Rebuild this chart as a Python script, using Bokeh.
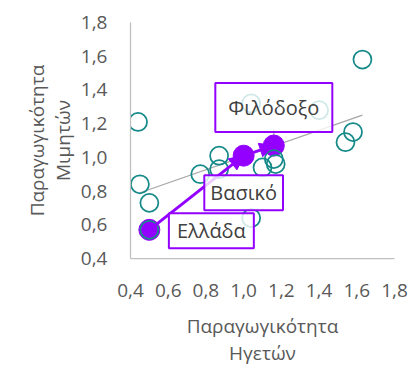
from bokeh.plotting import figure
from bokeh.models import (FixedTicker, CustomJSTickFormatter, Label, Arrow, NormalHead, Range1d,
                          LinearAxis)
from bokeh.embed import file_html
from bokeh.resources import INLINE

# ---- data ----
leaders_x = [1.63, 0.44, 1.04, 1.40, 1.58, 1.54, 0.87, 0.77, 0.87, 1.10, 1.16, 1.17, 0.45, 0.50, 1.04, 0.50]
mimics_y  = [1.58, 1.21, 1.32, 1.28, 1.15, 1.09, 1.01, 0.90, 0.93, 0.94, 0.99, 0.96, 0.84, 0.73, 0.64, 0.57]

greece_names = ["Ελλάδα", "Βασικό", "Φιλόδοξο"]
greece_x = [0.50, 1.00, 1.16]
greece_y = [0.57, 1.01, 1.07]

trend_x = [0.45, 1.63]
trend_y = [0.79, 1.25]

ticks = [0.4, 0.6, 0.8, 1.0, 1.2, 1.4, 1.6, 1.8]
x_title = ["Παραγωγικότητα", "Ηγετών"]
y_title = ["Παραγωγικότητα", "Μιμητών"]

# ---- style ----
TEAL = "#168a88"
PURPLE = "#9400ff"
FONT = "Open Sans"
TICK_COLOR = "#595959"
LABEL_COLOR = "#404040"

p = figure(width=411, height=368, output_backend="svg", toolbar_location=None,
           x_range=Range1d(ticks[0], ticks[-1]), y_range=Range1d(ticks[0], ticks[-1]),
           min_border_left=130, min_border_right=17, min_border_top=22, min_border_bottom=110)
p.outline_line_color = None
p.grid.visible = False
p.background_fill_color = "white"

fmt = CustomJSTickFormatter(code="return tick.toFixed(1).replace('.', ',');")


def style_axis(ax):
    ax.axis_label_text_font = FONT
    ax.axis_label_text_font_size = "19px"
    ax.axis_label_text_font_style = "normal"
    ax.axis_label_text_color = TICK_COLOR
    ax.major_tick_line_color = None
    ax.minor_tick_line_color = None
    ax.major_tick_out = 0
    ax.major_tick_in = 0
    ax.minor_tick_out = 0


for ax in (p.xaxis[0], p.yaxis[0]):
    style_axis(ax)
    ax.ticker = FixedTicker(ticks=ticks)
    ax.formatter = fmt
    ax.axis_line_color = "#bfbfbf"
    ax.axis_line_width = 1.25
    ax.major_label_text_font = FONT
    ax.major_label_text_font_size = "19px"
    ax.major_label_text_color = TICK_COLOR

p.xaxis[0].major_label_standoff = 25
p.yaxis[0].major_label_standoff = 23
p.xaxis[0].axis_label = x_title[0]
p.xaxis[0].axis_label_standoff = 13
p.yaxis[0].axis_label = y_title[1]
p.yaxis[0].axis_label_standoff = 2

# second title lines as extra, tick-less axes
x2 = LinearAxis(ticker=FixedTicker(ticks=[]), axis_label=x_title[1], axis_line_color=None,
                major_label_standoff=0, axis_label_standoff=-2)
style_axis(x2)
p.add_layout(x2, "below")
y2 = LinearAxis(ticker=FixedTicker(ticks=[]), axis_label=y_title[0], axis_line_color=None,
                major_label_standoff=0, axis_label_standoff=-3)
style_axis(y2)
p.add_layout(y2, "left")

# trend line
p.line(trend_x, trend_y, line_color="#a6a6a6", line_width=1.25)

# leader line for Φιλόδοξο label
p.segment(x0=[greece_x[2]], y0=[greece_y[2]], x1=[greece_x[2]], y1=[greece_y[2] + 0.1],
          line_color="#a6a6a6", line_width=1.25)

# greece path with arrows
for i in range(len(greece_x) - 1):
    p.add_layout(Arrow(end=NormalHead(size=14, fill_color=PURPLE, line_color=PURPLE),
                       x_start=greece_x[i], y_start=greece_y[i],
                       x_end=greece_x[i + 1], y_end=greece_y[i + 1],
                       line_color=PURPLE, line_width=3))

p.scatter(greece_x, greece_y, size=21, fill_color=PURPLE, line_color=PURPLE, line_width=1)

# other countries (hollow)
p.scatter(leaders_x, mimics_y, size=18, fill_color=None, line_color=TEAL, line_width=1.75)

# labels
offsets = [(62, -1), (0, -37), (0, 38)]
pads = [(8, 4), (6, 4), (13, 11)]
for name, x, y, (dx, dy), pad in zip(greece_names, greece_x, greece_y, offsets, pads):
    p.add_layout(Label(x=x, y=y, x_offset=dx, y_offset=dy, text=name,
                       text_font=FONT, text_font_size="20px", text_color=LABEL_COLOR,
                       text_align="center", text_baseline="middle",
                       background_fill_color="white", background_fill_alpha=0.8,
                       border_line_color=PURPLE, border_line_width=2, padding=pad))

open("out.html", "w").write(file_html(p, INLINE))
